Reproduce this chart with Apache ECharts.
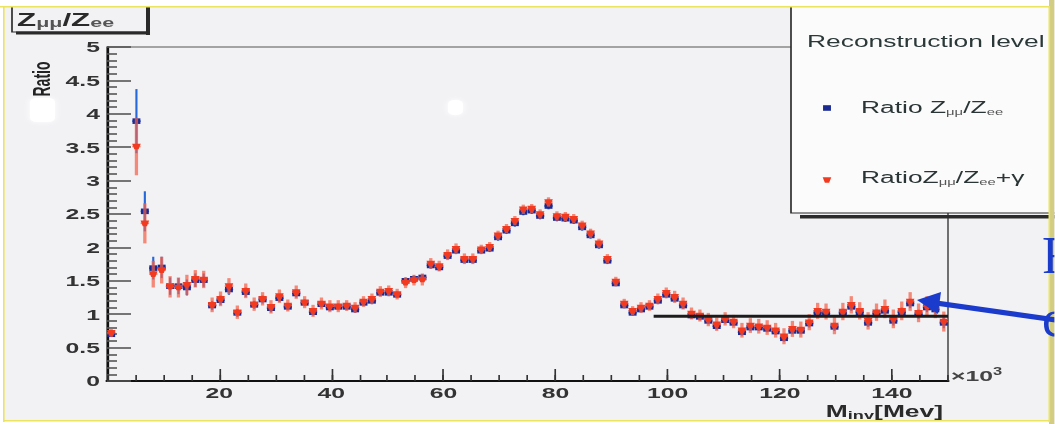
<!DOCTYPE html>
<html>
<head>
<meta charset="utf-8">
<title>Z mumu / Z ee ratio</title>
<script src="https://cdn.jsdelivr.net/npm/echarts/dist/echarts.min.js"></script>
<style>
  html, body { margin: 0; padding: 0; background: #ffffff; overflow: hidden; }
  #wrap { width: 1055px; height: 424px; overflow: hidden; position: relative; }
  #chart { position: absolute; left: 0; top: 0; height: 424px; transform-origin: 0 0; }
</style>
</head>
<body>
<div id="wrap"><div id="chart"></div></div>
<script>
// ---- data: invariant-mass bins (x10^3 MeV) and the two ratios ----
const binLow = 0;
const binWidth = 1.5;

// Ratio Z_mumu / Z_ee per bin (null = empty bin)
const ratioMuMu = [
  0.70, null, null, 3.89, 2.54, 1.69, 1.70, 1.42, 1.42, 1.40,
  1.51, 1.51, 1.13, 1.21, 1.37, 1.02, 1.33, 1.14, 1.22, 1.09,
  1.24, 1.11, 1.31, 1.17, 1.03, 1.15, 1.10, 1.11, 1.11, 1.07,
  1.17, 1.20, 1.32, 1.32, 1.29, 1.50, 1.53, 1.55, 1.73, 1.70,
  1.87, 1.95, 1.81, 1.81, 1.95, 1.98, 2.15, 2.25, 2.36, 2.53,
  2.55, 2.47, 2.62, 2.44, 2.43, 2.40, 2.30, 2.18, 2.03, 1.80,
  1.46, 1.13, 1.02, 1.07, 1.11, 1.20, 1.29, 1.23, 1.13, 0.98,
  0.96, 0.90, 0.82, 0.91, 0.87, 0.73, 0.80, 0.80, 0.78, 0.74,
  0.64, 0.75, 0.75, 0.86, 1.02, 1.01, 0.81, 1.02, 1.11, 1.03,
  0.87, 1.01, 1.05, 0.90, 1.03, 1.16, 1.00, 1.10, 1.07, 0.87
];
const errMuMu = [
  0.04, null, null, 0.48, 0.30, 0.17, 0.16, 0.13, 0.12, 0.12,
  0.10, 0.10, 0.07, 0.07, 0.08, 0.06, 0.07, 0.06, 0.06, 0.06,
  0.06, 0.05, 0.06, 0.05, 0.05, 0.05, 0.05, 0.05, 0.05, 0.05,
  0.05, 0.05, 0.05, 0.05, 0.05, 0.05, 0.05, 0.05, 0.05, 0.05,
  0.05, 0.05, 0.05, 0.05, 0.05, 0.05, 0.05, 0.05, 0.05, 0.05,
  0.05, 0.05, 0.05, 0.05, 0.05, 0.05, 0.05, 0.05, 0.05, 0.05,
  0.04, 0.04, 0.04, 0.04, 0.04, 0.05, 0.05, 0.05, 0.05, 0.05,
  0.05, 0.05, 0.05, 0.05, 0.05, 0.05, 0.05, 0.05, 0.05, 0.05,
  0.05, 0.05, 0.05, 0.06, 0.06, 0.06, 0.06, 0.06, 0.06, 0.06,
  0.06, 0.06, 0.06, 0.07, 0.07, 0.07, 0.07, 0.07, 0.07, 0.08
];

// Ratio Z_mumu / Z_ee+gamma per bin
const ratioMuMuGamma = [
  0.72, null, null, 3.51, 2.36, 1.60, 1.66, 1.41, 1.40, 1.44,
  1.53, 1.52, 1.14, 1.23, 1.42, 1.03, 1.35, 1.15, 1.23, 1.11,
  1.27, 1.13, 1.33, 1.18, 1.05, 1.16, 1.12, 1.12, 1.13, 1.10,
  1.19, 1.23, 1.34, 1.35, 1.30, 1.47, 1.51, 1.52, 1.76, 1.72,
  1.89, 1.98, 1.83, 1.83, 1.97, 2.01, 2.18, 2.28, 2.40, 2.57,
  2.58, 2.50, 2.68, 2.47, 2.46, 2.43, 2.33, 2.21, 2.06, 1.83,
  1.49, 1.16, 1.05, 1.10, 1.13, 1.23, 1.32, 1.26, 1.16, 1.01,
  0.98, 0.92, 0.85, 0.93, 0.89, 0.76, 0.83, 0.82, 0.80, 0.76,
  0.67, 0.78, 0.77, 0.88, 1.05, 1.04, 0.83, 1.04, 1.14, 1.05,
  0.90, 1.03, 1.08, 0.93, 1.05, 1.19, 1.02, 1.12, 1.09, 0.89
];
const errMuMuGamma = [
  0.06, null, null, 0.43, 0.30, 0.20, 0.20, 0.16, 0.15, 0.15,
  0.13, 0.13, 0.11, 0.11, 0.12, 0.10, 0.11, 0.10, 0.10, 0.10,
  0.10, 0.09, 0.10, 0.09, 0.09, 0.09, 0.09, 0.09, 0.08, 0.08,
  0.08, 0.08, 0.08, 0.08, 0.08, 0.08, 0.08, 0.09, 0.08, 0.08,
  0.08, 0.08, 0.08, 0.08, 0.07, 0.07, 0.07, 0.07, 0.07, 0.07,
  0.07, 0.07, 0.07, 0.07, 0.07, 0.07, 0.07, 0.07, 0.07, 0.07,
  0.07, 0.07, 0.07, 0.08, 0.08, 0.08, 0.08, 0.09, 0.09, 0.09,
  0.09, 0.10, 0.10, 0.10, 0.10, 0.11, 0.11, 0.11, 0.11, 0.11,
  0.12, 0.12, 0.12, 0.12, 0.12, 0.12, 0.13, 0.13, 0.13, 0.13,
  0.13, 0.13, 0.14, 0.14, 0.14, 0.14, 0.14, 0.15, 0.15, 0.15
];

// flat fit above 97.5 x10^3 MeV
const fitFrom = 97.5;
const fitTo = 150;
const fitLevel = 0.97;

// axes
const xMin = 0, xMax = 150, xStep = 20, xMinorStep = 5;
const yMin = 0, yMax = 5, yStep = 0.5;

// ---- layout: the figure is drawn narrow and stretched horizontally ----
const S = 1.65;
const W = 1055 / S;
const X = px => px / S;
const FONT = '"Liberation Sans", Arial, Helvetica, sans-serif';

const binCenters = ratioMuMu.map((_, i) => binLow + binWidth * (i + 0.5));
function points(values, errors) {
  const out = [];
  values.forEach((v, i) => { if (v != null) out.push([binCenters[i], v, errors[i]]); });
  return out;
}

const blueStyle = { bar: '#2468dc', barWidth: 1.3, mark: '#1b2a92', shape: 'rect' };
const redStyle  = { bar: 'rgba(244,96,72,0.72)', barWidth: 2.0, mark: '#f23a20', shape: 'tri' };

function marker(st, cx, cy) {
  if (st.shape === 'rect') {
    return { type: 'rect', shape: { x: cx - 2.4, y: cy - 2.8, width: 4.8, height: 5.6 }, style: { fill: st.mark } };
  }
  return { type: 'polygon', shape: { points: [[cx - 2.6, cy - 2.8], [cx + 2.6, cy - 2.8], [cx + 1.3, cy + 2.8], [cx - 1.3, cy + 2.8]] }, style: { fill: st.mark } };
}

function errorBarItem(st) {
  return function (params, api) {
    const x = api.value(0), y = api.value(1), e = api.value(2);
    const c = api.coord([x, y]);
    const top = api.coord([x, y + e])[1];
    const bot = api.coord([x, y - e])[1];
    const l = api.coord([x - binWidth / 2, y])[0];
    const r = api.coord([x + binWidth / 2, y])[0];
    return {
      type: 'group',
      children: [
        { type: 'line', shape: { x1: c[0], y1: top, x2: c[0], y2: bot }, style: { stroke: st.bar, lineWidth: st.barWidth } },
        { type: 'line', shape: { x1: l, y1: c[1], x2: r, y2: c[1] }, style: { stroke: st.bar, lineWidth: 1.6 } },
        marker(st, c[0], c[1])
      ]
    };
  };
}

const el = document.getElementById('chart');
el.style.width = W + 'px';
el.style.transform = 'scaleX(' + S + ')';
const chart = echarts.init(el, null, { renderer: 'svg', width: W, height: 424 });

const sub = (size) => ({ fontSize: size, fontWeight: 'bold', fontFamily: FONT, lineHeight: 4, verticalAlign: 'bottom' });

const graphics = [
  // title box
  { type: 'rect', z: 50, shape: { x: X(150) - X(4), y: 2, width: X(4), height: 33 }, style: { fill: '#2a2a2a' } },
  { type: 'rect', z: 50, shape: { x: X(16), y: 31.5, width: X(134), height: 3 }, style: { fill: '#2a2a2a' } },
  { type: 'rect', z: 50, shape: { x: X(12), y: -4, width: X(135), height: 36 }, style: { fill: 'none', stroke: '#2a2a2a', lineWidth: 1 } },
  { type: 'text', z: 51, x: X(17), y: 19, style: {
      text: '{b|Z}{s|μμ}{b|/Z}{s|ee}', fill: '#2a2a2a', verticalAlign: 'middle', align: 'left',
      rich: {
        b: { fontSize: 19, fontWeight: 'bold', fontFamily: FONT, lineHeight: 20, fill: '#2a2a2a' },
        s: Object.assign(sub(13), { fill: '#555' })
      } } },
  // y axis name
  { type: 'text', z: 51, x: X(42), y: 79, rotation: Math.PI / 2, style: {
      text: 'Ratio', fontSize: 14, fontWeight: 'bold', fontFamily: FONT, fill: '#222', align: 'center', verticalAlign: 'middle' } },
  // x axis multiplier and name
  { type: 'text', z: 51, x: X(951), y: 376, style: {
      text: '{m|×10}{p|3}', align: 'left', verticalAlign: 'middle',
      rich: {
        m: { fontSize: 15, fontWeight: 'bold', fontFamily: FONT, lineHeight: 18, fill: '#444' },
        p: { fontSize: 10, fontWeight: 'bold', fontFamily: FONT, lineHeight: 8, verticalAlign: 'top', fill: '#444' }
      } } },
  { type: 'text', z: 51, x: X(943), y: 412, style: {
      text: '{m|M}{s|inv}{m|[Mev]}', align: 'right', verticalAlign: 'middle',
      rich: {
        m: { fontSize: 16, fontWeight: 'bold', fontFamily: FONT, lineHeight: 16, fill: '#2a2a2a' },
        s: Object.assign(sub(11), { fill: '#2a2a2a' })
      } } },
  // legend box
  { type: 'rect', z: 60, shape: { x: X(800), y: 215, width: X(260), height: 3.5 }, style: { fill: '#2a2a2a' } },
  { type: 'rect', z: 61, shape: { x: X(791), y: -4, width: X(280), height: 217 }, style: { fill: '#fbfbfc', stroke: '#2a2a2a', lineWidth: 1 } },
  { type: 'text', z: 62, x: X(807), y: 42, style: {
      text: 'Reconstruction level', fontSize: 16, fontFamily: FONT, fill: '#2b3838', align: 'left', verticalAlign: 'middle' } },
  Object.assign(marker(blueStyle, X(827), 108), { z: 62 }),
  { type: 'text', z: 62, x: X(861), y: 108, style: {
      text: '{m|Ratio Z}{s|μμ}{m|/Z}{s|ee}', align: 'left', verticalAlign: 'middle',
      rich: {
        m: { fontSize: 16, fontFamily: FONT, lineHeight: 18, fill: '#2b3535' },
        s: { fontSize: 9, fontFamily: FONT, lineHeight: 4, verticalAlign: 'bottom', fill: '#555' }
      } } },
  Object.assign(marker(redStyle, X(827), 180), { z: 62 }),
  { type: 'text', z: 62, x: X(861), y: 178, style: {
      text: '{m|RatioZ}{s|μμ}{m|/Z}{s|ee}{m|+γ}', align: 'left', verticalAlign: 'middle',
      rich: {
        m: { fontSize: 16, fontFamily: FONT, lineHeight: 18, fill: '#2b3535' },
        s: { fontSize: 9, fontFamily: FONT, lineHeight: 4, verticalAlign: 'bottom', fill: '#555' }
      } } },
  // pale spots on the figure
  { type: 'rect', z: 40, shape: { x: X(30), y: 98, width: X(25), height: 24, r: 4 }, style: { fill: '#ffffff', shadowBlur: 4, shadowColor: '#ffffff' } },
  { type: 'rect', z: 40, shape: { x: X(448), y: 100, width: X(15), height: 15, r: 4 }, style: { fill: '#ffffff', shadowBlur: 4, shadowColor: '#ffffff' } },
  // figure edges
  { type: 'rect', z: 200, shape: { x: 0, y: 0, width: W, height: 7 }, style: { fill: '#ffffff' } },
  { type: 'rect', z: 200, shape: { x: 0, y: 0, width: X(3), height: 424 }, style: { fill: '#ffffff' } },
  { type: 'rect', z: 200, shape: { x: 0, y: 421, width: W, height: 3 }, style: { fill: '#ffffff' } },
  { type: 'rect', z: 200, shape: { x: X(1049), y: 0, width: X(6), height: 424 }, style: { fill: '#d3cc84' } },
  { type: 'rect', z: 201, shape: { x: 0, y: 6, width: X(1050), height: 1.5 }, style: { fill: '#ece45e' } },
  { type: 'rect', z: 201, shape: { x: X(3), y: 6, width: X(1.6), height: 416 }, style: { fill: '#ece45e' } },
  { type: 'rect', z: 201, shape: { x: X(3), y: 420, width: X(1046), height: 1.5 }, style: { fill: '#ece45e' } },
  { type: 'rect', z: 201, shape: { x: X(1048.5), y: 6, width: X(1.6), height: 416 }, style: { fill: '#ece45e' } },
  // annotation arrow and slide text
  { type: 'line', z: 210, shape: { x1: X(1056), y1: 320, x2: X(936), y2: 303 }, style: { stroke: '#1a3bcc', lineWidth: 5 } },
  { type: 'polygon', z: 210, shape: { points: [[X(917), 300], [X(941), 292], [X(938), 314]] }, style: { fill: '#1a3bcc' } },
  { type: 'text', z: 211, x: X(1042), y: 255, scaleX: 1 / S, style: {
      text: 'F', fontSize: 52, fontFamily: '"Liberation Serif", "DejaVu Serif", serif', fill: '#1a3bcc', align: 'left', verticalAlign: 'middle' } },
  { type: 'text', z: 211, x: X(1042), y: 318, scaleX: 1 / S, style: {
      text: 'c', fontSize: 52, fontFamily: '"Liberation Serif", "DejaVu Serif", serif', fill: '#1a3bcc', align: 'left', verticalAlign: 'middle' } }
];

const axisTextStyle = { fontSize: 15, fontWeight: 'bold', color: '#333', fontFamily: FONT };

chart.setOption({
  animation: false,
  backgroundColor: '#f2f2f5',
  grid: {
    left: X(107), right: X(107), top: 47, bottom: 43,
    show: true, backgroundColor: '#f2f2f5', borderColor: '#555', borderWidth: 1
  },
  xAxis: [
    {
      type: 'value', min: xMin, max: xMax, interval: xStep,
      axisLine: { onZero: false, lineStyle: { color: '#111', width: 2 } },
      axisTick: { inside: true, length: 12, lineStyle: { color: '#333', width: 1 } },
      axisLabel: Object.assign({ margin: 4, showMinLabel: false, showMaxLabel: false }, axisTextStyle),
      splitLine: { show: false }
    },
    {
      type: 'value', min: xMin, max: xMax, interval: xMinorStep, position: 'bottom',
      axisLine: { show: false },
      axisTick: { inside: true, length: 6, lineStyle: { color: '#333', width: 1 } },
      axisLabel: { show: false },
      splitLine: { show: false }
    }
  ],
  yAxis: {
    type: 'value', min: yMin, max: yMax, interval: yStep,
    axisLine: { onZero: false, lineStyle: { color: '#111', width: 1.3 } },
    axisTick: { inside: true, length: X(24), lineStyle: { color: '#555', width: 1.6 } },
    minorTick: { show: true, splitNumber: 5, length: X(10), lineStyle: { color: '#555', width: 1.6 } },
    axisLabel: Object.assign({ margin: X(7) }, axisTextStyle),
    splitLine: { show: false }
  },
  graphic: { elements: graphics },
  series: [
    {
      name: 'Ratio Zμμ/Zee', type: 'custom', z: 3, xAxisIndex: 0,
      renderItem: errorBarItem(blueStyle), encode: { x: 0, y: 1 },
      data: points(ratioMuMu, errMuMu)
    },
    {
      name: 'RatioZμμ/Zee+γ', type: 'custom', z: 4, xAxisIndex: 0,
      renderItem: errorBarItem(redStyle), encode: { x: 0, y: 1 },
      data: points(ratioMuMuGamma, errMuMuGamma)
    },
    {
      name: 'fit', type: 'line', z: 6, xAxisIndex: 0, symbol: 'none', silent: true,
      lineStyle: { color: '#1c1c1c', width: 3 },
      data: [[fitFrom, fitLevel], [fitTo, fitLevel]]
    }
  ]
});
</script>
</body>
</html>
